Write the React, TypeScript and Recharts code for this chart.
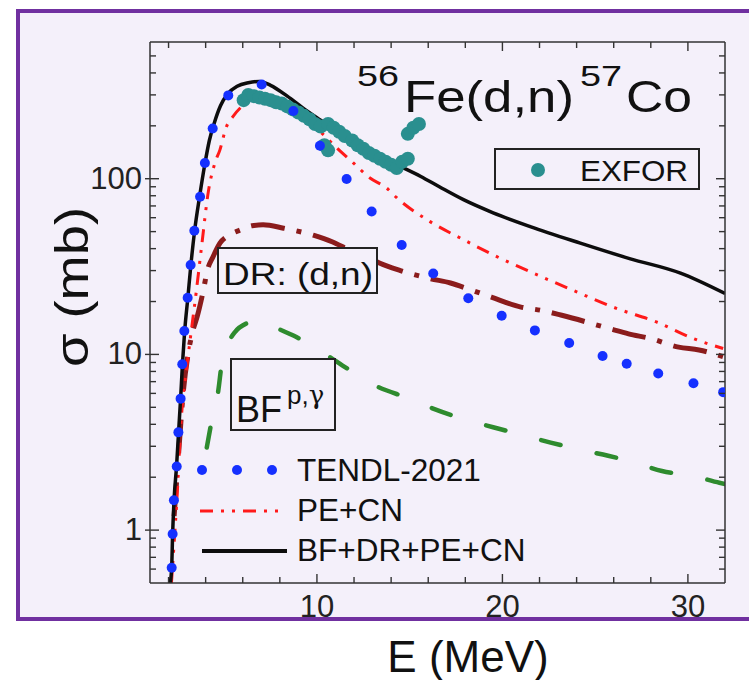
import React from 'react';
import { ComposedChart, Line, Scatter, XAxis, YAxis } from 'recharts';

// [E (MeV), sigma (mb)]
const totalPts: number[][] = [
  [2.08, 0.49], [2.17, 0.62], [2.22, 0.95], [2.3, 1.5], [2.43, 2.3], [2.54, 3.6], [2.65, 5.6],
  [2.75, 8.8], [2.87, 13.6], [3.04, 21], [3.2, 32], [3.4, 50], [3.68, 80], [3.95, 120],
  [4.2, 165], [4.45, 205], [4.8, 260], [5.2, 305], [5.7, 336], [6.3, 352], [6.9, 358],
  [7.5, 340], [8.4, 295], [9.2, 255], [10.2, 215], [11, 188], [12, 163], [13, 143],
  [13.8, 128], [15.6, 103], [16.6, 90], [17.9, 76], [19.5, 64], [21.5, 53.4], [24.2, 43],
  [26.9, 35], [29.6, 29], [32, 22.2],
];

const peCnPts: number[][] = [
  [2.15, 0.49], [2.45, 1.5], [2.7, 4.5], [2.98, 8.4], [3.16, 12], [3.5, 23], [3.78, 41],
  [4.15, 85], [4.5, 123], [4.77, 146], [5.1, 195], [5.49, 227], [6.21, 271], [6.57, 283],
  [7.47, 278], [8.37, 259], [9.26, 222], [10.16, 186], [11.06, 150], [11.96, 123],
  [12.86, 101], [13.76, 88.5], [14.3, 78], [16.1, 57], [17.9, 45], [19.7, 36], [22, 28],
  [24, 22.7], [26.2, 18.2], [28.3, 15.3], [30.3, 12.3], [31.9, 10.8],
];

const drPts: number[][] = [
  [2.3, 1.2], [2.55, 2.8], [2.8, 6.2], [3.05, 10], [3.3, 13.5], [3.55, 16.5], [3.87, 23],
  [4.09, 30], [4.4, 36], [4.77, 43], [5.3, 48], [5.85, 51], [6.5, 54], [7.1, 54.7],
  [8.2, 52.3], [9.8, 47.7], [10.85, 43.6], [11.8, 39], [12.7, 36], [13.4, 33], [14.5, 30],
  [16.1, 27], [17.2, 25.5], [18.25, 23.4], [19.4, 21.2], [21, 18.6], [22.1, 17.8],
  [23.2, 16.7], [25.8, 14], [26.8, 13.1], [28, 12.3], [29.5, 11], [30.6, 10.6], [31.9, 9.7],
];

const bfPts: number[][] = [
  [4.06, 2.95], [4.33, 4.2], [4.68, 6.2], [4.87, 8.9], [5.2, 11.5], [5.58, 13.4], [6.2, 15],
  [6.9, 15.6], [7.7, 14.3], [8.73, 12.8], [10.16, 10.5], [11.8, 8.1], [13.2, 6.6], [15, 5.6],
  [16.3, 4.9], [18.2, 4.2], [19.5, 3.85], [21.2, 3.45], [22.6, 3.15], [24.3, 2.85],
  [25.7, 2.65], [27.1, 2.43], [28.6, 2.17], [30.3, 2.03], [31.7, 1.86], [32, 1.83],
];

const tendlPts: number[][] = [
  [2.17, 0.61], [2.22, 0.95], [2.29, 1.48], [2.44, 2.3], [2.53, 3.6], [2.65, 5.6], [2.74, 8.8],
  [2.85, 13.6], [3.03, 21], [3.19, 32.3], [3.39, 50.6], [3.7, 79], [3.96, 123], [4.38, 193],
  [5.22, 298], [7.02, 344], [8.73, 243], [10.16, 154], [11.6, 99.7], [12.95, 65], [14.57, 42],
  [16.27, 28.9], [18.16, 20.9], [19.96, 16.6], [21.75, 13.7], [23.6, 11.6], [25.4, 9.8],
  [26.7, 8.85], [28.4, 7.78], [30.3, 6.86], [31.9, 6.1],
];

const exforPts: number[][] = [
  [6.05, 280], [6.3, 300], [6.6, 295], [6.9, 290], [7.2, 285], [7.5, 280], [7.8, 272],
  [8.1, 268], [8.4, 258], [8.7, 248], [9.0, 238], [9.3, 228], [9.6, 218], [9.9, 205],
  [10.2, 198], [10.4, 155], [10.6, 145], [10.6, 205], [10.9, 195], [11.2, 185], [11.5, 175],
  [11.9, 165], [12.2, 155], [12.5, 148], [12.8, 140], [13.1, 135], [13.4, 130], [13.7, 125],
  [14.0, 120], [14.3, 115], [14.6, 125], [14.9, 130], [14.9, 180], [15.2, 195], [15.5, 205],
];

const xTicks = [2, 4, 6, 8, 10, 12, 14, 16, 18, 20, 22, 24, 26, 28, 30];
const yTicks = [
  0.6, 0.7, 0.8, 0.9, 1, 2, 3, 4, 5, 6, 7, 8, 9, 10, 20, 30, 40, 50, 60, 70, 80, 90,
  100, 200, 300, 400, 500,
];
const yLabels = [1, 10, 100];

const toRows = (pts: number[][]) => pts.map(([e, s]) => ({ e, s }));

const FONT = 'Liberation Sans, Arial, Helvetica, sans-serif';
const AX = '#333';
const BG = '#f4f0fa';

const BottomTick = (props: any) => {
  const { x, y, payload } = props;
  const major = payload.value % 10 === 0;
  return (
    <g>
      <line x1={x} x2={x} y1={y} y2={y - (major ? 9 : 6)} stroke={AX} strokeWidth={1.4} />
      {major && (
        <text x={x} y={y + 34} textAnchor="middle" fontSize={31} fontFamily={FONT} fill="#222">
          {payload.value}
        </text>
      )}
    </g>
  );
};

const TopTick = (props: any) => {
  const { x, y, payload } = props;
  const major = payload.value % 10 === 0;
  return <line x1={x} x2={x} y1={y} y2={y + (major ? 9 : 6)} stroke={AX} strokeWidth={1.4} />;
};

const LeftTick = (props: any) => {
  const { x, y, payload } = props;
  const major = yLabels.includes(payload.value);
  return (
    <g>
      <line x1={major ? x - 5 : x} x2={x + (major ? 9 : 6)} y1={y} y2={y} stroke={AX} strokeWidth={1.4} />
      {major && (
        <text x={x - 8} y={y + 10} textAnchor="end" fontSize={31} fontFamily={FONT} fill="#222">
          {payload.value}
        </text>
      )}
    </g>
  );
};

const RightTick = (props: any) => {
  const { x, y, payload } = props;
  const major = yLabels.includes(payload.value);
  return <line x1={x} x2={x - (major ? 9 : 6)} y1={y} y2={y} stroke={AX} strokeWidth={1.4} />;
};

const dot = (r: number, fill: string) => (p: any) => <circle cx={p.cx} cy={p.cy} r={r} fill={fill} />;

const App = () => {
  return (
    <div style={{ position: 'absolute', left: 0, top: 0, width: 749, height: 680, overflow: 'hidden', background: '#fff' }}>
      <div
        style={{
          position: 'absolute', left: 16, top: 9, width: 800, height: 612,
          border: '4px solid #7030a0', background: BG, boxSizing: 'border-box',
        }}
      />
      <div style={{ position: 'absolute', left: 0, top: 0 }}>
        <ComposedChart width={749} height={680} margin={{ top: 40, right: 20, bottom: 57, left: 90 }}>
          <XAxis
            dataKey="e" type="number" domain={[1, 32]} allowDataOverflow ticks={xTicks} interval={0}
            height={40} tickSize={0} tickMargin={0} tick={<BottomTick />}
            axisLine={{ stroke: AX, strokeWidth: 1.5 }} tickLine={false}
          />
          <XAxis
            xAxisId="top" orientation="top" dataKey="e" type="number" domain={[1, 32]} allowDataOverflow
            ticks={xTicks} interval={0} height={2} tickSize={0} tickMargin={0} tick={<TopTick />}
            axisLine={{ stroke: AX, strokeWidth: 1.5 }} tickLine={false}
          />
          <YAxis
            type="number" scale="log" domain={[0.5, 600]} allowDataOverflow ticks={yTicks} interval={0}
            width={60} tickSize={0} tickMargin={0} tick={<LeftTick />}
            axisLine={{ stroke: AX, strokeWidth: 1.5 }} tickLine={false}
          />
          <YAxis
            yAxisId="right" orientation="right" type="number" scale="log" domain={[0.5, 600]} allowDataOverflow
            ticks={yTicks} interval={0} width={4} tickSize={0} tickMargin={0} tick={<RightTick />}
            axisLine={{ stroke: AX, strokeWidth: 1.5 }} tickLine={false}
          />
          <Scatter data={toRows(exforPts)} dataKey="s" shape={dot(7, '#2a8f8f')} isAnimationActive={false} />
          <Line data={toRows(bfPts)} dataKey="s" type="monotone" stroke="#2e8b2e" strokeWidth={4.5}
            strokeDasharray="20 37" strokeLinecap="round" dot={false} isAnimationActive={false} />
          <Line data={toRows(drPts)} dataKey="s" type="monotone" stroke="#8b1c1c" strokeWidth={5}
            strokeDasharray="34 12 5 12" dot={false} isAnimationActive={false} />
          <Line data={toRows(peCnPts)} dataKey="s" type="monotone" stroke="#ff1a1a" strokeWidth={3}
            strokeDasharray="13 8 3 8 3 8" dot={false} isAnimationActive={false} />
          <Line data={toRows(totalPts)} dataKey="s" type="monotone" stroke="#0d0d0d" strokeWidth={3.5}
            dot={false} isAnimationActive={false} />
          <Scatter data={toRows(tendlPts)} dataKey="s" shape={dot(5, '#1530ff')} isAnimationActive={false} />
        </ComposedChart>
      </div>
      <svg width={749} height={680} style={{ position: 'absolute', left: 0, top: 0, pointerEvents: 'none' }} fontFamily={FONT}>
        <text x={357} y={86} fontSize={30} textLength={42} lengthAdjust="spacingAndGlyphs" fill="#111">56</text>
        <text x={404} y={112} fontSize={45} textLength={170} lengthAdjust="spacingAndGlyphs" fill="#111">Fe(d,n)</text>
        <text x={580} y={86} fontSize={30} textLength={42} lengthAdjust="spacingAndGlyphs" fill="#111">57</text>
        <text x={626} y={112} fontSize={45} textLength={66} lengthAdjust="spacingAndGlyphs" fill="#111">Co</text>

        <rect x={495} y={149} width={204} height={40} fill={BG} stroke="#222" strokeWidth={2} />
        <circle cx={538} cy={170} r={7} fill="#2a8f8f" />
        <text x={580} y={181} fontSize={30} textLength={108} lengthAdjust="spacingAndGlyphs" fill="#111">EXFOR</text>

        <rect x={218} y={248} width={159} height={45} fill={BG} stroke="#222" strokeWidth={2} />
        <text x={223} y={285} fontSize={31} textLength={150} lengthAdjust="spacingAndGlyphs" fill="#111">DR: (d,n)</text>

        <rect x={231} y={359} width={104} height={71} fill={BG} stroke="#222" strokeWidth={2} />
        <text x={236} y={422} fontSize={36} textLength={46} lengthAdjust="spacingAndGlyphs" fill="#111">BF</text>
        <text x={287} y={404} fontSize={26} fill="#111">p,<tspan fontFamily="DejaVu Serif, serif">γ</tspan></text>

        <circle cx={202} cy={470} r={5} fill="#1530ff" />
        <circle cx={237} cy={470} r={5} fill="#1530ff" />
        <circle cx={272} cy={470} r={5} fill="#1530ff" />
        <text x={297} y={481} fontSize={31.5} fill="#111">TENDL-2021</text>
        <line x1={200} x2={283} y1={511} y2={511} stroke="#ff1a1a" strokeWidth={3} strokeDasharray="13 8 3 8 3 8" />
        <text x={297} y={521} fontSize={31.5} fill="#111">PE+CN</text>
        <line x1={202} x2={287} y1={551} y2={551} stroke="#0d0d0d" strokeWidth={4} />
        <text x={297} y={561} fontSize={31.5} fill="#111">BF+DR+PE+CN</text>

        <text x={468} y={672} fontSize={44} textAnchor="middle" fill="#111">E (MeV)</text>
        <text x={88} y={287} fontSize={46} textAnchor="middle" textLength={160} lengthAdjust="spacingAndGlyphs"
          transform="rotate(-90 88 287)" fill="#111">σ (mb)</text>
      </svg>
    </div>
  );
};

export default App;
